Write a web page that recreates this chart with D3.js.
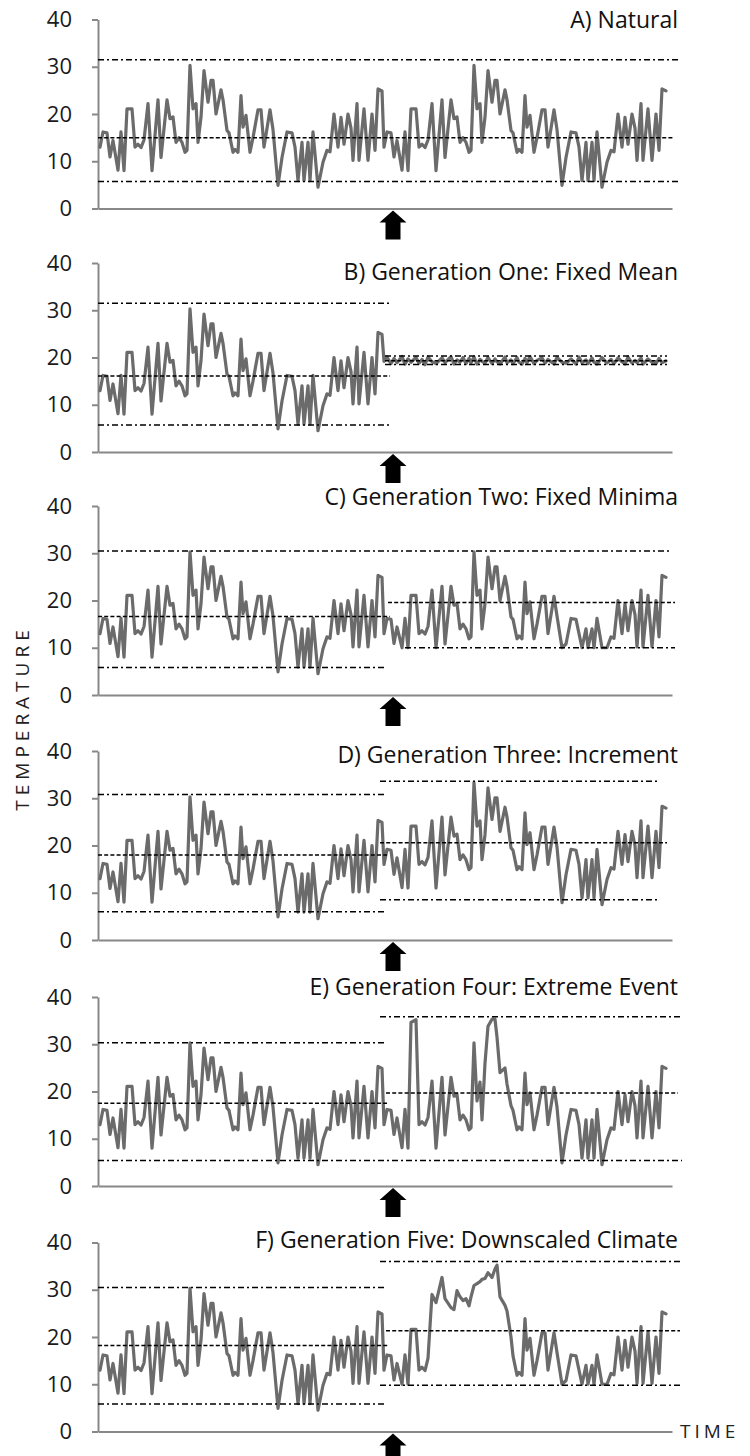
<!DOCTYPE html>
<html><head><meta charset="utf-8">
<script src="https://cdn.jsdelivr.net/npm/d3@7"></script>
<style>body{margin:0;background:#fff}svg{display:block}</style>
</head><body>
<script>
// ---------- DATA ----------
const yTicks = [0, 10, 20, 30, 40];
const panelTitles = ["A) Natural", "B) Generation One: Fixed Mean", "C) Generation Two: Fixed Minima",
  "D) Generation Three: Increment", "E) Generation Four: Extreme Event", "F) Generation Five: Downscaled Climate"];
const changeTime = 295;

// time (days) of the first and second halves
const timeFirst = [2,5,9,12,15,20,23,26,29,34,37,40,43,46,50,54,60,63,69,72,75,78,81,84,87,89,92,95,98,100,103,106,110,113,115,118,123,125,129,131,135,137,140,143,145,148,152,155,160,163,166,172,175,180,184,189,194,197,200,204,206,210,212,215,220,225,229,232,236,240,243,246,250,253,255,259,261,266,270,274,277,280,284];
const timeSecond = [286,289,293,296,299,304,307,310,313,318,321,324,327,330,334,338,344,347,353,356,359,362,365,368,371,373,376,379,382,384,387,390,394,397,399,402,407,409,413,415,419,421,424,427,429,432,436,439,444,447,450,456,459,464,468,473,478,481,484,488,490,494,496,499,504,509,513,516,520,524,527,530,534,537,539,543,545,550,554,558,561,564,568];

// temperature, first half (shared by all panels)
const naturalFirst = [13.0,16.2,16.0,10.9,14.4,8.1,16.2,8.0,21.1,21.1,
  13.0,13.6,12.9,14.5,22.2,8.0,23.0,10.8,23.0,19.0,
  19.4,14.0,15.0,14.0,11.9,12.3,30.3,21.1,22.2,14.0,
  19.3,29.2,22.5,27.1,27.1,20.0,25.1,23.0,16.5,16.0,
  11.9,12.5,11.9,23.9,17.2,19.7,11.9,15.0,20.9,20.9,
  13.0,20.9,16.7,4.9,10.8,16.2,16.0,13.0,5.9,14.0,
  5.9,14.0,5.9,16.2,4.5,9.8,12.3,12.0,20.0,13.0,
  19.3,13.6,20.0,17.0,10.2,22.2,10.2,21.1,10.2,20.0,
  12.3,25.3,24.9];

// temperature, second half, one array per scenario
const naturalSecond = [13.0,16.2,16.0,10.9,14.4,8.1,16.2,8.0,21.1,21.1,
  13.0,13.6,12.9,14.5,22.2,8.0,23.0,10.8,23.0,19.0,
  19.4,14.0,15.0,14.0,11.9,12.3,30.3,21.1,22.2,14.0,
  19.3,29.2,22.5,27.1,27.1,20.0,25.1,23.0,16.5,16.0,
  11.9,12.5,11.9,23.9,17.2,19.7,11.9,15.0,20.9,20.9,
  13.0,20.9,16.7,4.9,10.8,16.2,16.0,13.0,5.9,14.0,
  5.9,14.0,5.9,16.2,4.5,9.8,12.3,12.0,20.0,13.0,
  19.3,13.6,20.0,17.0,10.2,22.2,10.2,21.1,10.2,20.0,
  12.3,25.3,24.9];
const fixedMeanSecond = [19.2,20.1,18.7,19.8,18.9,20.2,18.6,19.7,19.0,20.0,
  18.8,19.6,18.5,20.1,19.1,18.7,19.9,18.9,20.2,18.6,
  19.5,19.0,20.0,18.7,19.8,18.9,20.1,18.6,19.6,19.2,
  18.8,20.0,18.7,19.7,19.1,18.6,20.1,18.9,19.5,18.7,
  20.0,19.0,18.6,19.8,18.9,20.2,18.7,19.4,19.9,18.8,
  19.6,18.6,20.0,19.0,18.8,19.7,18.6,20.1,18.9,19.5,
  18.7,19.9,19.0,18.6,20.0,18.8,19.6,18.7,19.9,19.1,
  18.6,20.1,18.8,19.4,18.9,19.9,18.6,19.7,19.0,18.7,
  19.8,18.9,19.3];
const fixedMinimaSecond = [13.0,16.2,16.0,10.9,14.4,10.0,16.2,10.0,21.1,21.1,
  13.0,13.6,12.9,14.5,22.2,10.0,23.0,10.8,23.0,19.0,
  19.4,14.0,15.0,14.0,11.9,12.3,30.3,21.1,22.2,14.0,
  19.3,29.2,22.5,27.1,27.1,20.0,25.1,23.0,16.5,16.0,
  11.9,12.5,11.9,23.9,17.2,19.7,11.9,15.0,20.9,20.9,
  13.0,20.9,16.7,10.0,10.8,16.2,16.0,13.0,10.0,14.0,
  10.0,14.0,10.0,16.2,10.0,10.0,12.3,12.0,20.0,13.0,
  19.3,13.6,20.0,17.0,10.2,22.2,10.2,21.1,10.2,20.0,
  12.3,25.3,24.9];
const incrementSecond = [16.0,19.2,19.0,13.9,17.4,11.1,19.2,11.0,24.1,24.1,
  16.0,16.6,15.9,17.5,25.2,11.0,26.0,13.8,26.0,22.0,
  22.4,17.0,18.0,17.0,14.9,15.3,33.3,24.1,25.2,17.0,
  22.3,32.2,25.5,30.1,30.1,23.0,28.1,26.0,19.5,19.0,
  14.9,15.5,14.9,26.9,20.2,22.7,14.9,18.0,23.9,23.9,
  16.0,23.9,19.7,7.9,13.8,19.2,19.0,16.0,8.9,17.0,
  8.9,17.0,8.9,19.2,7.5,12.8,15.3,15.0,23.0,16.0,
  22.3,16.6,23.0,20.0,13.2,25.2,13.2,24.1,13.2,23.0,
  15.3,28.3,27.9];
const extremeSecond = [13.0,16.2,16.0,10.9,14.4,8.1,16.2,8.0,34.6,35.2,
  13.0,13.6,12.9,14.5,22.2,8.0,23.0,10.8,23.0,19.0,
  19.4,14.0,15.0,14.0,11.9,12.3,30.3,18.0,22.0,14.0,
  26.0,33.8,35.3,35.3,31.5,24.0,25.0,21.6,17.0,16.0,
  11.9,12.5,11.9,23.9,17.2,19.7,11.9,15.0,20.9,20.9,
  13.0,20.9,16.7,4.9,10.8,16.2,16.0,13.0,5.9,14.0,
  5.9,14.0,5.9,16.2,4.5,9.8,12.3,12.0,20.0,13.0,
  19.3,13.6,20.0,17.0,10.2,22.2,10.2,21.1,10.2,20.0,
  12.3,25.3,24.9];
const downscaledSecond = [13.0,16.2,16.0,10.9,14.4,10.0,16.2,10.0,21.6,21.6,
  13.0,13.6,12.9,15.5,29.0,27.3,32.6,28.1,26.2,25.8,
  29.8,28.5,27.7,28.1,26.6,28.5,30.9,31.3,31.7,32.2,
  32.4,33.6,32.6,34.4,35.2,28.5,26.7,25.5,20.0,16.0,
  11.9,12.5,11.9,23.9,17.2,19.7,11.9,15.0,20.9,20.9,
  13.0,20.9,16.7,10.0,10.8,16.2,16.0,13.0,10.0,14.0,
  10.0,14.0,10.0,16.2,10.0,10.0,12.3,12.0,20.0,13.0,
  19.3,13.6,20.0,17.0,10.2,22.2,10.2,21.1,10.2,20.0,
  12.3,25.3,24.9];

// reference levels: [temperature, from time, to time, kind]
const linesA = [[31.5,0,580,"limit"],[15.0,0,575,"mean"],[5.7,0,580,"limit"]];
const linesB = [[31.5,0,292,"limit"],[16.1,0,292,"mean"],[5.7,0,292,"limit"],
  [20.3,287,569,"limit"],[19.3,287,569,"mean"],[18.5,287,569,"limit"]];
const linesC = [[30.5,0,574,"limit"],[16.6,0,292,"mean"],[5.8,0,286,"limit"],
  [19.6,290,577,"mean"],[10.0,307,577,"limit"]];
const linesD = [[30.8,0,286,"limit"],[18.0,0,289,"mean"],[6.0,0,286,"limit"],
  [33.6,282,559,"limit"],[20.6,282,569,"mean"],[8.5,282,560,"limit"]];
const linesE = [[30.3,0,286,"limit"],[17.5,0,289,"mean"],[5.4,0,584,"limit"],
  [35.8,282,584,"limit"],[19.7,288,580,"mean"]];
const linesF = [[30.5,0,286,"limit"],[18.2,0,290,"mean"],[5.8,0,286,"limit"],
  [36.0,282,582,"limit"],[21.3,288,582,"mean"],[9.8,282,582,"limit"]];

// ---------- DRAWING ----------
const panels = [
  {title: panelTitles[0], second: naturalSecond, lines: linesA},
  {title: panelTitles[1], second: fixedMeanSecond, lines: linesB},
  {title: panelTitles[2], second: fixedMinimaSecond, lines: linesC},
  {title: panelTitles[3], second: incrementSecond, lines: linesD},
  {title: panelTitles[4], second: extremeSecond, lines: linesE},
  {title: panelTitles[5], second: downscaledSecond, lines: linesF}
];
const W = 750, H = 1456;
const FONT = "'Open Sans', 'DejaVu Sans', sans-serif";
const axisBase = [208.5, 452, 695, 940, 1186, 1431.5];
const titleY = [20, 272, 497, 755, 987, 1240];
const panelH = 189;
const svg = d3.select("body").append("svg").attr("width", W).attr("height", H)
  .style("font-family", FONT);
const x = d3.scaleLinear().domain([0, 574]).range([98, 672]);

panels.forEach((p, i) => {
  const y = d3.scaleLinear().domain([0, 40]).range([axisBase[i], axisBase[i] - panelH]);
  const g = svg.append("g");

  // y axis
  const ya = g.append("g").attr("transform", `translate(${x(0)},0)`)
    .call(d3.axisLeft(y).tickValues(yTicks).tickSize(6).tickSizeOuter(0).tickPadding(20));
  ya.select(".domain").attr("stroke", "#888").attr("stroke-width", 2);
  ya.selectAll(".tick line").attr("stroke", "#888").attr("stroke-width", 2);
  ya.selectAll(".tick text").attr("fill", "#1a1a1a").style("font-size", "22px").style("font-family", FONT);

  // x axis (no ticks)
  const xa = g.append("g").attr("transform", `translate(0,${y(0)})`)
    .call(d3.axisBottom(x).tickValues([]).tickSizeOuter(0));
  xa.select(".domain").attr("stroke", "#888").attr("stroke-width", 2.2);

  // series
  const pts = timeFirst.map((t, k) => [t, naturalFirst[k]])
    .concat(timeSecond.map((t, k) => [t, p.second[k]]));
  g.append("path").datum(pts)
    .attr("fill", "none").attr("stroke", "#6b6b6b").attr("stroke-width", 3.2)
    .attr("stroke-linejoin", "round").attr("stroke-linecap", "round")
    .attr("d", d3.line().defined(d => d[1] != null).x(d => x(d[0])).y(d => y(d[1])));

  // reference lines
  g.selectAll("line.ref").data(p.lines).enter().append("line").attr("class", "ref")
    .attr("x1", d => x(d[1])).attr("x2", d => x(d[2]))
    .attr("y1", d => y(d[0])).attr("y2", d => y(d[0]))
    .attr("stroke", "#000").attr("stroke-width", 1.5)
    .attr("stroke-dasharray", d => d[3] === "mean" ? "4,2.2" : "6,3,2,3");

  // title
  g.append("text").attr("x", 678).attr("y", titleY[i]).attr("dy", "0.36em")
    .attr("text-anchor", "end").attr("fill", "#111").style("font-size", "23px").text(p.title);

  // arrow marking the change point
  const cx = x(changeTime), top = y(0) + 2;
  const arrow = d3.path();
  arrow.moveTo(cx, top);
  arrow.lineTo(cx + 13.5, top + 12);
  arrow.lineTo(cx + 7.5, top + 12);
  arrow.lineTo(cx + 7.5, top + 29);
  arrow.lineTo(cx - 7.5, top + 29);
  arrow.lineTo(cx - 7.5, top + 12);
  arrow.lineTo(cx - 13.5, top + 12);
  arrow.closePath();
  g.append("path").attr("d", arrow.toString()).attr("fill", "#000");
});

// axis titles
svg.append("text").attr("transform", "translate(22,718) rotate(-90)")
  .attr("text-anchor", "middle").attr("dy", "0.36em").attr("fill", "#222")
  .style("font-size", "19px").style("letter-spacing", "5px").text("TEMPERATURE");
svg.append("text").attr("x", 680).attr("y", axisBase[5]).attr("dy", "0.36em")
  .attr("fill", "#222").style("font-size", "19px").style("letter-spacing", "4px").text("TIME");
</script>
</body></html>
